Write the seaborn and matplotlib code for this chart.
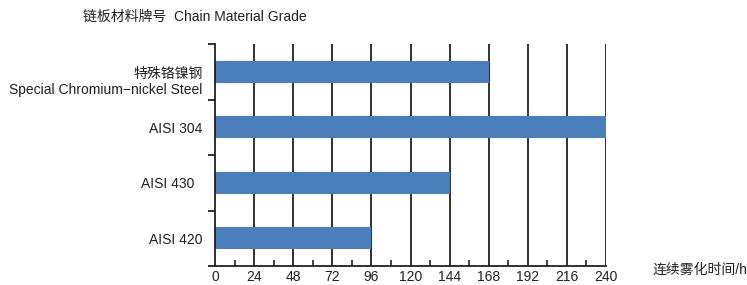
import matplotlib
matplotlib.use("Agg")
import matplotlib.pyplot as plt
import matplotlib.transforms as mtransforms
import seaborn as sns
import pandas as pd
import numpy as np

# 数据
grades = ["特殊铬镍钢\nSpecial Chromium\u2212nickel Steel", "AISI 304", "AISI 430  ", "AISI 420"]
hours = [168, 240, 144, 96]
x_ticks = [0, 24, 48, 72, 96, 120, 144, 168, 192, 216, 240]

df = pd.DataFrame({"grade": grades, "hours": hours})

sns.set_style("white")
plt.rcParams["font.family"] = ["Liberation Sans", "Noto Sans CJK SC", "DejaVu Sans"]
txt = "#231f20"

fig = plt.figure(figsize=(7.47, 2.85), dpi=100)
ax = fig.add_axes([215 / 747, 1 - 266 / 285, (606 - 215) / 747, (266 - 44) / 285])

sns.barplot(data=df, x="hours", y="grade", color="#4a7ebb", saturation=1,
            width=0.4, orient="h", linewidth=0, ax=ax)

ax.set_xlim(0, 240)
ax.set_ylim(3.5, -0.5)
ax.set_axisbelow(True)

# 竖向网格线
for v in x_ticks[1:]:
    ax.axvline(v, color=txt, lw=1.3, zorder=0)

ax.set_xticks(x_ticks)
ax.set_xticks(np.arange(12, 240, 24), minor=True)
ax.tick_params(axis="x", which="both", bottom=True)
ax.tick_params(axis="x", which="major", length=0, pad=3, labelsize=10, colors=txt)
ax.tick_params(axis="x", which="minor", direction="in", length=4, width=1.2, color=txt)

ax.set_yticks(range(len(grades)))
ax.set_yticklabels(grades, ha="right")
ax.set_yticks([-0.5, 0.5, 1.5, 2.5, 3.5], minor=True)
ax.tick_params(axis="y", which="both", left=True)
ax.tick_params(axis="y", which="major", length=0, pad=9, labelsize=10, colors=txt)
ax.tick_params(axis="y", which="minor", direction="out", length=5, width=1.3, color=txt)

# 第一个标签：中文行对齐柱子中心
lab0 = ax.get_yticklabels()[0]
lab0.set_transform(lab0.get_transform() +
                   mtransforms.ScaledTranslation(0, -8 / 100, fig.dpi_scale_trans))

for s in ["top", "right"]:
    ax.spines[s].set_visible(False)
for s in ["left", "bottom"]:
    ax.spines[s].set_color(txt)
    ax.spines[s].set_linewidth(1.3)

ax.set_xlabel("")
ax.set_ylabel("")

fig.text(83 / 747, 1 - 17 / 285, "链板材料牌号  Chain Material Grade",
         fontsize=10, color=txt, va="center", ha="left")
fig.text(653 / 747, 1 - 270 / 285, "连续雾化时间/h",
         fontsize=10, color=txt, va="center", ha="left")

fig.savefig("out.png", dpi=100)
